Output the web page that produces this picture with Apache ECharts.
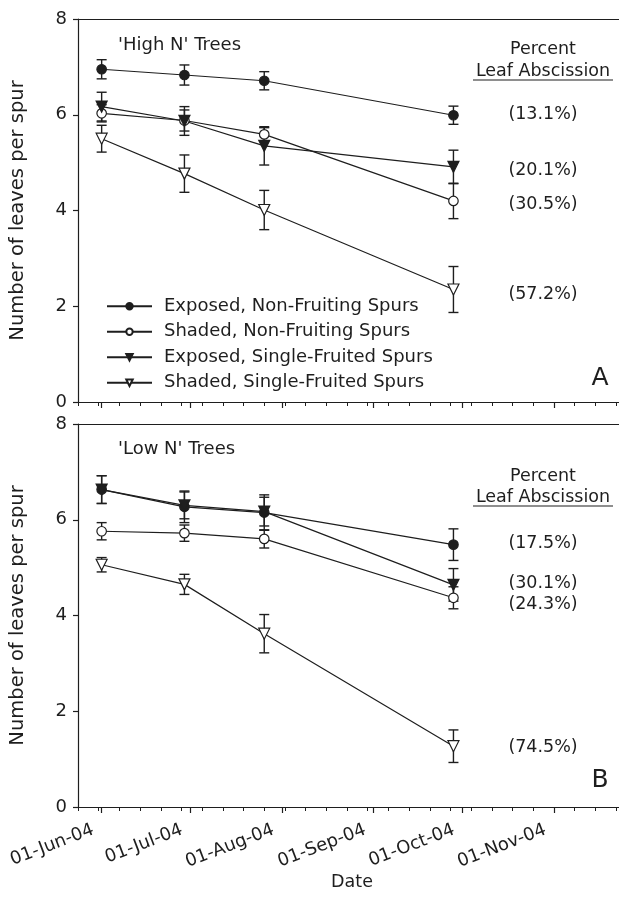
<!DOCTYPE html>
<html><head><meta charset="utf-8">
<script src="https://cdn.jsdelivr.net/npm/echarts@6/dist/echarts.min.js"></script>
<style>html,body{margin:0;padding:0;background:#fff}#c{width:619px;height:899px}</style>
</head><body><div id="c"></div><script>
// ---------------- data ----------------
const sampleDates = ['2004-06-01', '2004-06-29', '2004-07-26', '2004-09-28'];
const seriesNames = ['Exposed, Non-Fruiting Spurs', 'Shaded, Non-Fruiting Spurs', 'Exposed, Single-Fruited Spurs', 'Shaded, Single-Fruited Spurs'];

// Panel A: 'High N' trees (mean, SE)
const highN_exposedNF = [6.95, 6.83, 6.71, 5.99];
const highN_exposedNF_err = [0.20, 0.21, 0.19, 0.19];
const highN_shadedNF = [6.03, 5.88, 5.59, 4.20];
const highN_shadedNF_err = [0.18, 0.22, 0.14, 0.37];
const highN_exposedSF = [6.17, 5.87, 5.35, 4.91];
const highN_exposedSF_err = [0.30, 0.30, 0.40, 0.35];
const highN_shadedSF = [5.50, 4.77, 4.01, 2.35];
const highN_shadedSF_err = [0.28, 0.39, 0.41, 0.48];

// Panel B: 'Low N' trees (mean, SE)
const lowN_exposedNF = [6.63, 6.27, 6.15, 5.48];
const lowN_exposedNF_err = [0.29, 0.33, 0.37, 0.33];
const lowN_shadedNF = [5.76, 5.72, 5.60, 4.37];
const lowN_shadedNF_err = [0.18, 0.17, 0.19, 0.23];
const lowN_exposedSF = [6.63, 6.30, 6.17, 4.64];
const lowN_exposedSF_err = [0.29, 0.28, 0.30, 0.34];
const lowN_shadedSF = [5.06, 4.65, 3.62, 1.27];
const lowN_shadedSF_err = [0.15, 0.21, 0.40, 0.34];

const highN_abscission = ['(13.1%)', '(20.1%)', '(30.5%)', '(57.2%)'];
const lowN_abscission = ['(17.5%)', '(30.1%)', '(24.3%)', '(74.5%)'];

const monthTickDates = ['2004-06-01', '2004-07-01', '2004-08-01', '2004-09-01', '2004-10-01', '2004-11-01'];
const monthTickLabels = ['01-Jun-04', '01-Jul-04', '01-Aug-04', '01-Sep-04', '01-Oct-04', '01-Nov-04'];
const yTicks = [0, 2, 4, 6, 8];
const xAxisStart = '2004-05-24';
const xAxisEnd = '2004-11-23';

// ---------------- chart ----------------
const FONT = 'DejaVu Sans';
const INK = '#1e1e1e';
const DAY = 86400000;
const t = s => Date.parse(s);
const monthTicks = monthTickDates.map(t);
const weekTicks = [];
for (let v = t(xAxisStart); v <= t(xAxisEnd); v += 7 * DAY) weekTicks.push(v);

const grids = [
  {left: 78, top: 19, right: 0, height: 383},
  {left: 78, top: 424, right: 0, height: 383}
];

function xAxes(gi, withLabels) {
  const base = {type: 'value', gridIndex: gi, min: t(xAxisStart), max: t(xAxisEnd), splitLine: {show: false}};
  return [
    Object.assign({}, base, {
      position: 'bottom',
      axisLine: {show: true, lineStyle: {color: INK, width: 1.2}},
      axisTick: {show: true, inside: false, length: 6, customValues: monthTicks, lineStyle: {color: INK, width: 1.2}},
      axisLabel: withLabels ? {
        show: true, customValues: monthTicks, rotate: 21, margin: 19, padding: [0, 9, 0, 0],
        fontFamily: FONT, fontSize: 18, color: INK,
        formatter: v => monthTickLabels[monthTicks.indexOf(v)]
      } : {show: false}
    }),
    Object.assign({}, base, {
      position: 'bottom',
      axisLine: {show: false},
      axisTick: {show: true, inside: false, length: 4, customValues: weekTicks, lineStyle: {color: INK, width: 1}},
      axisLabel: {show: false}
    }),
    Object.assign({}, base, {
      position: 'top',
      axisLine: {show: true, lineStyle: {color: INK, width: 1.2}},
      axisTick: {show: false},
      axisLabel: {show: false}
    })
  ];
}

function yAxis(gi) {
  return {
    type: 'value', gridIndex: gi, min: 0, max: 8, interval: 2,
    name: 'Number of leaves per spur', nameLocation: 'middle', nameGap: 50,
    nameTextStyle: {fontFamily: FONT, fontSize: 19.5, color: INK},
    axisLine: {show: true, lineStyle: {color: INK, width: 1.2}},
    axisTick: {show: true, length: 5, customValues: yTicks, lineStyle: {color: INK, width: 1.2}},
    axisLabel: {fontFamily: FONT, fontSize: 18, color: INK, margin: 11, customValues: yTicks},
    splitLine: {show: false}
  };
}

const markerDefs = [
  {symbol: 'circle', size: 9.5, fill: INK, rotate: 0},
  {symbol: 'circle', size: 9.5, fill: '#fff', rotate: 0},
  {symbol: 'triangle', size: 11, fill: INK, rotate: 180},
  {symbol: 'triangle', size: 11, fill: '#fff', rotate: 180}
];

function lineSeries(k, gi, means) {
  const m = markerDefs[k];
  return {
    name: seriesNames[k], type: 'line', xAxisIndex: gi * 3, yAxisIndex: gi,
    data: sampleDates.map((d, i) => [t(d), means[i]]),
    symbol: m.symbol, symbolSize: m.size, symbolRotate: m.rotate, showAllSymbol: true,
    itemStyle: {color: m.fill, borderColor: INK, borderWidth: 1.2, opacity: 1},
    lineStyle: {color: INK, width: 1.2},
    z: 3, animation: false
  };
}

function errSeries(gi, means, errs) {
  return {
    type: 'custom', xAxisIndex: gi * 3, yAxisIndex: gi, silent: true, z: 2, animation: false,
    data: sampleDates.map((d, i) => [t(d), means[i] - errs[i], means[i] + errs[i]]),
    encode: {x: 0, y: [1, 2]},
    renderItem(params, api) {
      const x = api.value(0);
      const lo = api.coord([x, api.value(1)]);
      const hi = api.coord([x, api.value(2)]);
      const w = 5;
      const st = {stroke: INK, lineWidth: 1.4};
      return {type: 'group', children: [
        {type: 'line', shape: {x1: lo[0], y1: lo[1], x2: hi[0], y2: hi[1]}, style: st},
        {type: 'line', shape: {x1: lo[0] - w, y1: lo[1], x2: lo[0] + w, y2: lo[1]}, style: st},
        {type: 'line', shape: {x1: hi[0] - w, y1: hi[1], x2: hi[0] + w, y2: hi[1]}, style: st}
      ]};
    }
  };
}

const panelA = [[highN_exposedNF, highN_exposedNF_err], [highN_shadedNF, highN_shadedNF_err], [highN_exposedSF, highN_exposedSF_err], [highN_shadedSF, highN_shadedSF_err]];
const panelB = [[lowN_exposedNF, lowN_exposedNF_err], [lowN_shadedNF, lowN_shadedNF_err], [lowN_exposedSF, lowN_exposedSF_err], [lowN_shadedSF, lowN_shadedSF_err]];

const series = [];
[panelA, panelB].forEach((panel, gi) => {
  panel.forEach(([m, e]) => series.push(errSeries(gi, m, e)));
  panel.forEach(([m], k) => series.push(lineSeries(k, gi, m)));
});

function txt(x, y, s, size, align) {
  return {type: 'text', x: x, y: y, style: {text: s, fontFamily: FONT, fontSize: size, fill: INK, align: align || 'center', verticalAlign: 'middle'}, z: 10};
}
const graphics = [
  txt(118, 45, "'High N' Trees", 18, 'left'),
  txt(118, 449, "'Low N' Trees", 18, 'left'),
  txt(543, 49, 'Percent', 17.5),
  txt(543, 71, 'Leaf Abscission', 17.5),
  {type: 'line', shape: {x1: 473, y1: 80, x2: 613, y2: 80}, style: {stroke: INK, lineWidth: 1.2}},
  txt(543, 476, 'Percent', 17.5),
  txt(543, 497, 'Leaf Abscission', 17.5),
  {type: 'line', shape: {x1: 473, y1: 506, x2: 613, y2: 506}, style: {stroke: INK, lineWidth: 1.2}},
  txt(600, 378, 'A', 25),
  txt(600, 780, 'B', 25),
  txt(352, 882, 'Date', 17.5)
];
const aY = [114, 170, 204, 294];
const bY = [543, 583, 604, 747];
highN_abscission.forEach((s, i) => graphics.push(txt(543, aY[i], s, 17.5)));
lowN_abscission.forEach((s, i) => graphics.push(txt(543, bY[i], s, 17.5)));

const chart = echarts.init(document.getElementById('c'), null, {renderer: 'canvas'});
chart.setOption({
  backgroundColor: '#fff',
  animation: false,
  grid: grids.map(g => Object.assign({show: false}, g)),
  xAxis: [...xAxes(0, false), ...xAxes(1, true)],
  yAxis: [yAxis(0), yAxis(1)],
  legend: {
    data: seriesNames, orient: 'vertical', left: 106, top: 297,
    itemWidth: 45, itemHeight: 8, itemGap: 7, padding: 0,
    textStyle: {fontFamily: FONT, fontSize: 18, color: INK, padding: [0, 0, 0, 7], lineHeight: 18.5},
    selectedMode: false
  },
  series: series,
  graphic: graphics
});
</script></body></html>
